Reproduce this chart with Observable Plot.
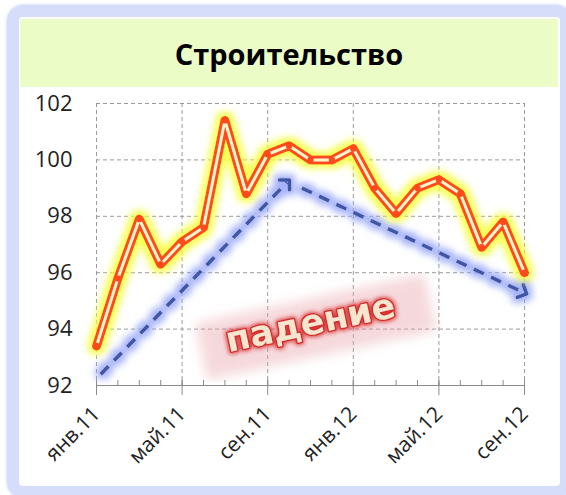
<!DOCTYPE html>
<html><head><meta charset="utf-8">
<script src="https://cdn.jsdelivr.net/npm/d3@7"></script>
<script src="https://cdn.jsdelivr.net/npm/@observablehq/plot@0.6"></script>
<style>
body{margin:0;background:#fff;width:566px;height:495px;overflow:hidden;position:relative;font-family:"Open Sans",sans-serif}
#frame{position:absolute;left:7px;top:5px;width:541px;height:469px;border:12px solid #d5ddfb;border-radius:16px;box-shadow:0 0 3px #b8c4f4;}
#banner{position:absolute;left:20px;top:19px;width:538px;height:68px;background:#ebfcc6;display:flex;align-items:center;justify-content:center;font-weight:700;font-size:29px;color:#000;font-family:"Open Sans",sans-serif}
#chart{position:absolute;left:0;top:87px}
</style></head>
<body>
<svg width="0" height="0" style="position:absolute">
<defs>
<filter id="blueGlow" x="-30%" y="-30%" width="160%" height="160%">
 <feMorphology in="SourceAlpha" operator="dilate" radius="4" result="d"/>
 <feGaussianBlur in="d" stdDeviation="3.5" result="b"/>
 <feFlood flood-color="#97a6f7" flood-opacity="0.85"/>
 <feComposite in2="b" operator="in" result="g"/>
 <feMerge><feMergeNode in="g"/><feMergeNode in="SourceGraphic"/></feMerge>
</filter>
<filter id="yellowGlow" x="-30%" y="-30%" width="160%" height="160%">
 <feMorphology in="SourceAlpha" operator="dilate" radius="4" result="d"/>
 <feGaussianBlur in="d" stdDeviation="3.5" result="b"/>
 <feFlood flood-color="#f6ff40" flood-opacity="0.9"/>
 <feComposite in2="b" operator="in" result="g"/>
 <feMerge><feMergeNode in="g"/><feMergeNode in="SourceGraphic"/></feMerge>
</filter>
<filter id="redGlow" x="-30%" y="-30%" width="160%" height="160%">
 <feMorphology in="SourceAlpha" operator="dilate" radius="1" result="d"/>
 <feGaussianBlur in="d" stdDeviation="2" result="b"/>
 <feFlood flood-color="#d42020" flood-opacity="0.85"/>
 <feComposite in2="b" operator="in" result="g"/>
 <feMerge><feMergeNode in="g"/><feMergeNode in="SourceGraphic"/></feMerge>
</filter>
<filter id="soft" x="-30%" y="-60%" width="160%" height="220%">
 <feGaussianBlur stdDeviation="6"/>
</filter>
</defs>
</svg>
<div id="frame"></div><div id="banner">Строительство</div><div id="chart"></div>
<script>
const months = ["янв.11","фев.11","мар.11","апр.11","май.11","июн.11","июл.11","авг.11","сен.11","окт.11","ноя.11","дек.11",
                "янв.12","фев.12","мар.12","апр.12","май.12","июн.12","июл.12","авг.12","сен.12"];
const values = [93.4,95.8,97.9,96.3,97.1,97.6,101.4,98.8,100.2,100.5,100.0,100.0,100.4,99.0,98.1,99.0,99.3,98.8,96.9,97.8,96.0];
const yTicks = [92,94,96,98,100,102];
const majorTicks = [0,4,8,12,16,20];
const minorTicks = months.map((m, i) => i);
// annotation arrows: trend up, trend down (month index, value)
const arrowX1 = [0.2, 9.6];
const arrowY1 = [92.4, 99.0];
const arrowX2 = [8.9, 19.95];
const arrowY2 = [99.2, 95.3];
const labelText = ["падение"];
const labelX = [10.0];
const labelY = [94.2];
const bandX1 = [4.9], bandY1 = [93.2], bandX2 = [15.6], bandY2 = [94.95];

const data = months.map((m, i) => ({i, month: m, value: values[i]}));
const arrows = arrowX1.map((_, k) => ({x1: arrowX1[k], y1: arrowY1[k], x2: arrowX2[k], y2: arrowY2[k]}));
const band = bandX1.map((_, k) => ({x1: bandX1[k], y1: bandY1[k], x2: bandX2[k], y2: bandY2[k]}));
const label = labelText.map((t, k) => ({t, x: labelX[k], y: labelY[k]}));

const chart = Plot.plot({
  width: 566, height: 400,
  marginLeft: 96, marginRight: 42, marginTop: 16, marginBottom: 102,
  style: {fontFamily: "Open Sans, sans-serif", background: "transparent", color: "#222"},
  x: {domain: [0, 20], axis: null},
  y: {domain: [92, 102], axis: null},
  marks: [
    Plot.gridY(yTicks, {stroke: "#9a9a9a", strokeOpacity: 1, strokeDasharray: "4,3"}),
    Plot.gridX(majorTicks, {stroke: "#9a9a9a", strokeOpacity: 1, strokeDasharray: "4,3"}),
    Plot.ruleY([92], {stroke: "#8a8a8a", strokeWidth: 1.2}),
    Plot.axisX(minorTicks, {tickSize: 5, dy: -5, tickFormat: () => "", stroke: "#8a8a8a"}),
    Plot.axisX(majorTicks, {tickSize: 15, dy: -5, tickFormat: i => months[i], tickRotate: -45, fontSize: 21, tickPadding: 15, stroke: "#8a8a8a", fill: "#222"}),
    Plot.axisY(yTicks, {tickSize: 0, tickPadding: 24, fontSize: 22, fill: "#222"}),
    Plot.link(band, {x1: "x1", y1: "y1", x2: "x2", y2: "y2", stroke: "#e7a2aa", strokeWidth: 58, strokeOpacity: 0.42, strokeLinecap: "butt", imageFilter: "url(#soft)"}),
    Plot.link(arrows, {x1: "x1", y1: "y1", x2: "x2", y2: "y2", stroke: "#3f56a3", strokeWidth: 3.5, strokeDasharray: "11,8", markerEnd: "arrow", imageFilter: "url(#blueGlow)"}),
    Plot.line(data, {x: "i", y: "value", stroke: "#ff4b1c", strokeWidth: 9, strokeLinejoin: "round", imageFilter: "url(#yellowGlow)"}),
    Plot.line(data, {x: "i", y: "value", stroke: "#fff6cf", strokeWidth: 3, strokeLinejoin: "round"}),
    Plot.dot(data, {x: "i", y: "value", r: 3.2, fill: "#ff4b1c"}),
    Plot.text(label, {x: "x", y: "y", text: "t", rotate: -12, fontSize: 35, fontWeight: "bold", fontFamily: "DejaVu Sans", fill: "#f5e6d0", stroke: "#d42a2a", strokeWidth: 2.5, paintOrder: "stroke", imageFilter: "url(#redGlow)"})
  ]
});
document.getElementById("chart").appendChild(chart);
</script>
</body></html>
